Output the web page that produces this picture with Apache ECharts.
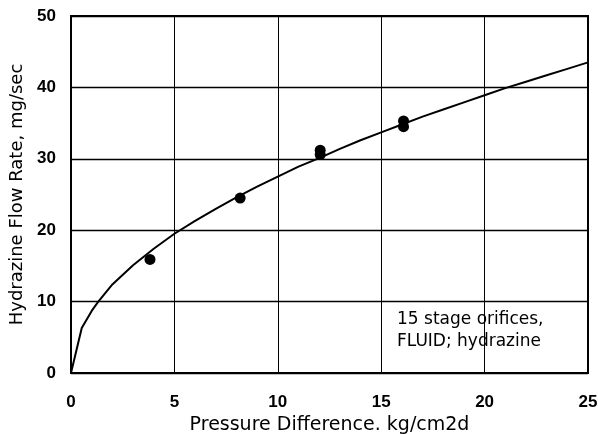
<!DOCTYPE html>
<html><head><meta charset="utf-8">
<script src="https://cdn.jsdelivr.net/npm/echarts@6/dist/echarts.min.js"></script>
<style>html,body{margin:0;padding:0;background:#fff}#c{width:598px;height:434px}</style>
</head><body><div id="c"></div>
<script>
var curveX = [0, 0.52, 1.0, 1.32, 2.0, 3.0, 4.0, 5.0, 6.0, 7.0, 8.0, 9.0, 10.0, 11.0, 12.0, 13.0, 14.0, 15.0, 16.0, 17.0, 18.0, 19.0, 20.0, 21.0, 22.0, 23.0, 24.0, 25.0];
var curveY = [0, 6.3, 8.7, 10.0, 12.4, 15.1, 17.4, 19.5, 21.3, 23.0, 24.6, 26.1, 27.5, 28.9, 30.1, 31.4, 32.6, 33.7, 34.8, 35.9, 36.9, 37.9, 38.9, 39.9, 40.8, 41.7, 42.6, 43.5];
var pointX = [3.82, 8.18, 12.05, 12.05, 16.08, 16.08];
var pointY = [15.9, 24.5, 31.2, 30.6, 35.3, 34.5];
var xTicks = [0, 5, 10, 15, 20, 25];
var yTicks = [0, 10, 20, 30, 40, 50];
var xTitle = 'Pressure Difference. kg/cm2d';
var yTitle = 'Hydrazine Flow Rate, mg/sec';
var noteLines = ['15 stage orifices,', 'FLUID; hydrazine'];

var chart = echarts.init(document.getElementById('c'), null, {renderer: 'canvas'});
var font = 'Liberation Sans, Arial, sans-serif';
var wide = 'DejaVu Sans, sans-serif';
chart.setOption({
  animation: false,
  backgroundColor: '#fff',
  grid: {left: 71, right: 10, top: 16, bottom: 61, containLabel: false, outerBoundsMode: 'none',
         show: true, borderColor: '#000', borderWidth: 2, backgroundColor: 'transparent'},
  xAxis: {
    type: 'value', min: xTicks[0], max: xTicks[xTicks.length - 1], interval: 5,
    name: xTitle, nameLocation: 'middle', nameGap: 43,
    nameTextStyle: {fontFamily: wide, fontSize: 19, color: '#000'},
    axisLine: {show: false}, axisTick: {show: false},
    axisLabel: {fontFamily: font, fontSize: 17, fontWeight: 'bold', color: '#000', margin: 21},
    splitLine: {show: true, lineStyle: {color: '#000', width: 1}}
  },
  yAxis: {
    type: 'value', min: yTicks[0], max: yTicks[yTicks.length - 1], interval: 10,
    name: yTitle, nameLocation: 'middle', nameGap: 41,
    nameTextStyle: {fontFamily: wide, fontSize: 18, color: '#000'},
    axisLine: {show: false}, axisTick: {show: false},
    axisLabel: {fontFamily: font, fontSize: 17, fontWeight: 'bold', color: '#000', margin: 15},
    splitLine: {show: true, lineStyle: {color: '#000', width: 1.3}}
  },
  series: [
    {type: 'line', data: curveX.map(function (x, i) { return [x, curveY[i]]; }), showSymbol: false, smooth: false,
     lineStyle: {color: '#000', width: 2}, z: 3},
    {type: 'scatter', data: pointX.map(function (x, i) { return [x, pointY[i]]; }), symbol: 'circle', symbolSize: 11,
     itemStyle: {color: '#000', opacity: 1}, z: 4}
  ],
  graphic: [
    {type: 'text', left: 397, top: 309, style: {text: noteLines.join('\n'), font: '17px ' + wide, fill: '#000', lineHeight: 22}}
  ]
});
</script>
</body></html>
